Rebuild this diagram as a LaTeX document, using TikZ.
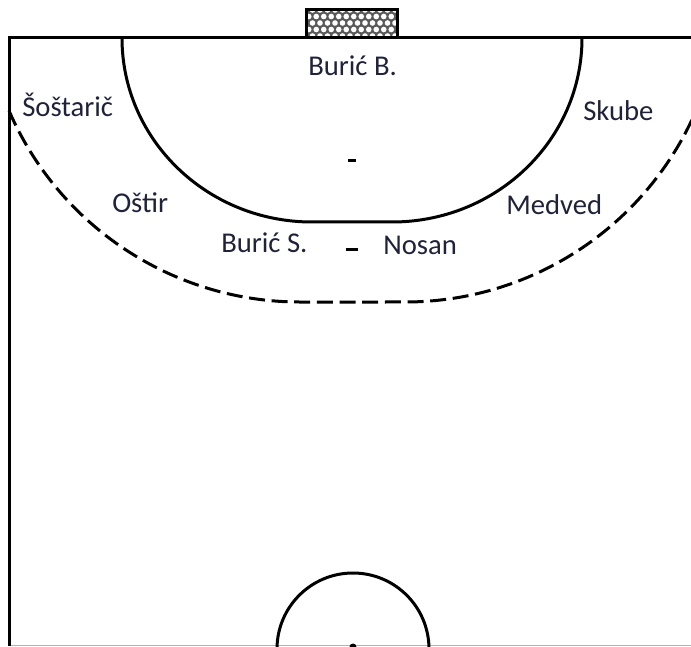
\documentclass[tikz,border=0pt]{standalone}
\usepackage{fontspec}
\setmainfont{Carlito}
\definecolor{textnavy}{RGB}{32,34,58}
\tikzset{
    player/.style={
        anchor=base west,
        inner sep=0pt,
        text=textnavy,
        font=\fontsize{21.5}{25}\selectfont
    },
    courtline/.style={
        line width=2.25pt
    },
    freethrow/.style={
        line width=2.25pt,
        dash pattern=on 12pt off 5pt
    }
}

\begin{document}
\begin{tikzpicture}[x=0.75pt,y=0.75pt]
  \useasboundingbox (0,0) rectangle (691,646);
  \begin{scope}
    \clip (0,0) rectangle (691,646);

    % Goal net
    \begin{scope}
      \clip (306,608) rectangle (397,636);
      \fill[black!65] (306,608) rectangle (397,636);
      \foreach \row in {0,...,4} {
        \foreach \col in {0,...,12} {
          \fill[white] ({305+7.5*\col+3.75*mod(\row,2)},{610+6.5*\row}) circle[radius=2.8];
        }
      }
    \end{scope}
    \draw[courtline] (306,608) rectangle (397,636);

    % Court boundary
    \draw[gray!60, line width=0.75pt] (9,0.5) -- (691,0.5);
    \draw[courtline] (9,0) -- (9,608) -- (691,608);

    % Goal area line
    \draw[courtline] (122,608) arc[start angle=180, end angle=270, x radius=190, y radius=184]
      -- (392,424) arc[start angle=270, end angle=360, x radius=190, y radius=184];

    % Free throw line
    \draw[freethrow] (9.1,535.1) arc[start angle=203.4, end angle=270, radius=317]
      -- (405,344) arc[start angle=270, end angle=340, radius=317];

    % Marks
    \draw[courtline] (348,485) -- (356,485);
    \draw[courtline] (346,396) -- (358,396);

    % Centre circle
    \draw[courtline] (353,-3) circle[radius=76];
    \fill (353,-1) circle[radius=3.5];
  \end{scope}

  % Players
  \node[player] (buricB) at (308,570) {Burić B.};
  \node[player] (sostaric) at (22,529) {Šoštarič};
  \node[player] (skube) at (583,525) {Skube};
  \node[player] (ostir) at (112,433) {Oštir};
  \node[player] (medved) at (506,431) {Medved};
  \node[player] (buricS) at (221,393) {Burić S.};
  \node[player] (nosan) at (383,391) {Nosan};
\end{tikzpicture}
\end{document}
